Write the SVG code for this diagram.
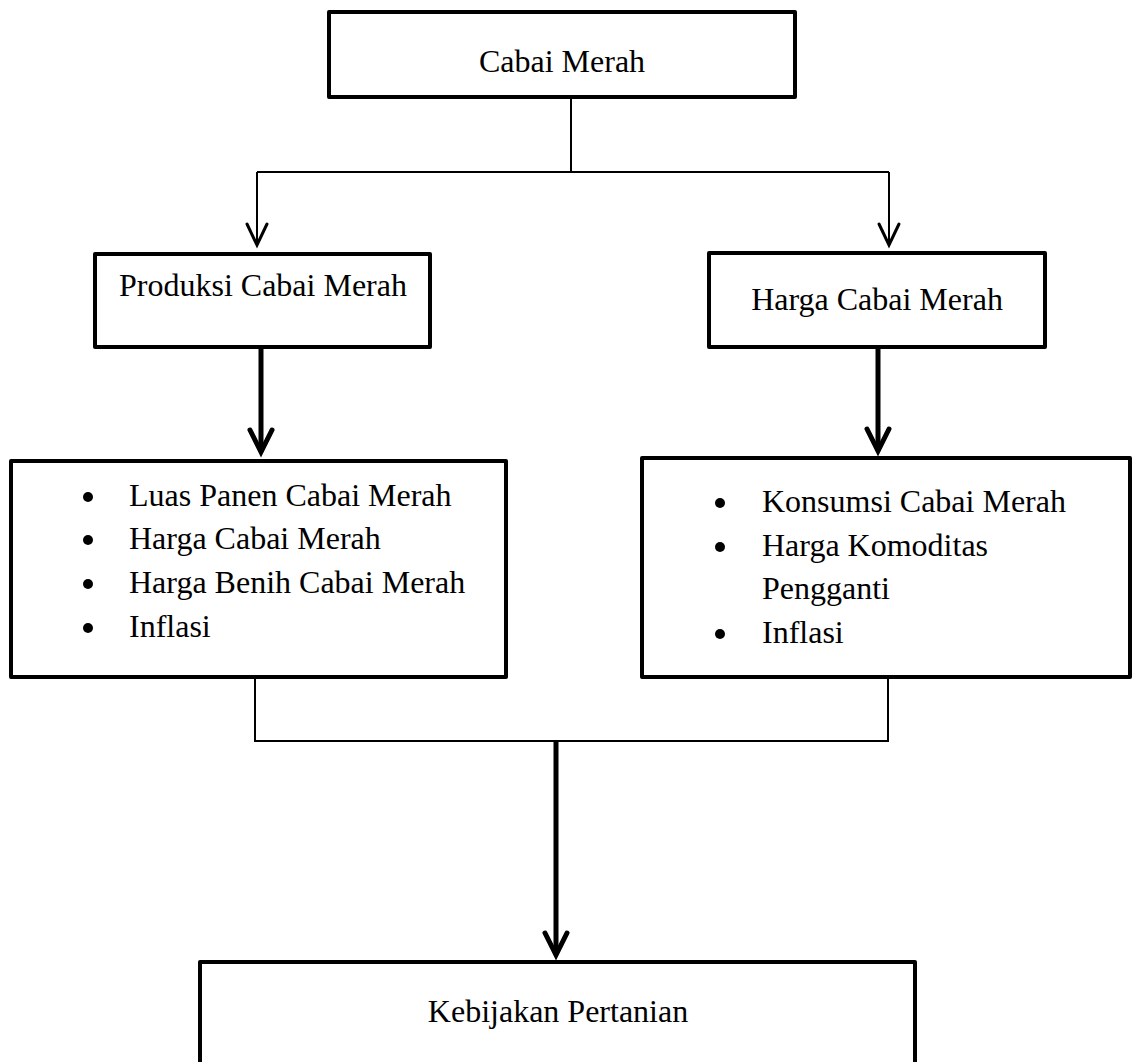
<svg xmlns="http://www.w3.org/2000/svg" width="1134" height="1062" viewBox="0 0 1134 1062">
  <style>
    .box { fill: #ffffff; stroke: #000000; stroke-width: 4; stroke-linejoin: round; }
    .lbl { font-family: "Liberation Serif", "Times New Roman", serif; font-size: 32px; fill: #000000; }
    .mid { text-anchor: middle; }
    .thin { fill: none; stroke: #000000; stroke-width: 2; }
    .thick { fill: none; stroke: #000000; stroke-width: 5; }
    .dot { fill: #000000; }
  </style>
  <defs>
    <marker id="arrThin" markerUnits="userSpaceOnUse" viewBox="-26 -14 30 28" markerWidth="30" markerHeight="28" refX="0" refY="0" orient="auto" overflow="visible">
      <path d="M-21,-10 L0,0 L-21,10" fill="none" stroke="#000000" stroke-width="3" stroke-linecap="round" stroke-linejoin="miter"/>
    </marker>
    <marker id="arrThick" markerUnits="userSpaceOnUse" viewBox="-28 -16 32 32" markerWidth="32" markerHeight="32" refX="0" refY="0" orient="auto" overflow="visible">
      <path d="M-22,-11 L0,0 L-22,11" fill="none" stroke="#000000" stroke-width="5" stroke-linecap="round" stroke-linejoin="miter"/>
    </marker>
  </defs>

  <g id="connectors">
    <path class="thin" d="M571,97 V172 M257,172 H889"/>
    <path class="thin" d="M257,172 V245" marker-end="url(#arrThin)"/>
    <path class="thin" d="M889,172 V245" marker-end="url(#arrThin)"/>
    <path class="thick" d="M261,347 V452" marker-end="url(#arrThick)"/>
    <path class="thick" d="M878,347 V451" marker-end="url(#arrThick)"/>
    <path class="thin" d="M255,677 V741 H888 V677"/>
    <path class="thick" d="M556,741 V955" marker-end="url(#arrThick)"/>
  </g>

  <g id="node-cabai-merah">
    <rect class="box" x="329" y="12" width="466" height="85"/>
    <text class="lbl mid" x="562" y="72">Cabai Merah</text>
  </g>

  <g id="node-produksi">
    <rect class="box" x="95" y="254" width="335" height="93"/>
    <text class="lbl mid" x="263" y="296">Produksi Cabai Merah</text>
  </g>

  <g id="node-harga">
    <rect class="box" x="709" y="253" width="336" height="94"/>
    <text class="lbl mid" x="877" y="310">Harga Cabai Merah</text>
  </g>

  <g id="node-faktor-produksi">
    <rect class="box" x="11" y="461" width="495" height="216"/>
    <circle class="dot" cx="88" cy="497" r="5"/>
    <text class="lbl" x="129" y="506">Luas Panen Cabai Merah</text>
    <circle class="dot" cx="88" cy="540" r="5"/>
    <text class="lbl" x="129" y="549">Harga Cabai Merah</text>
    <circle class="dot" cx="88" cy="584" r="5"/>
    <text class="lbl" x="129" y="593">Harga Benih Cabai Merah</text>
    <circle class="dot" cx="88" cy="628" r="5"/>
    <text class="lbl" x="129" y="637">Inflasi</text>
  </g>

  <g id="node-faktor-harga">
    <rect class="box" x="642" y="458" width="488" height="219"/>
    <circle class="dot" cx="720" cy="503" r="5"/>
    <text class="lbl" x="762" y="512">Konsumsi Cabai Merah</text>
    <circle class="dot" cx="720" cy="547" r="5"/>
    <text class="lbl" x="762" y="556">Harga Komoditas</text>
    <text class="lbl" x="762" y="599">Pengganti</text>
    <circle class="dot" cx="720" cy="634" r="5"/>
    <text class="lbl" x="762" y="643">Inflasi</text>
  </g>

  <g id="node-kebijakan">
    <rect class="box" x="200" y="962" width="715" height="110"/>
    <text class="lbl mid" x="558" y="1022">Kebijakan Pertanian</text>
  </g>
</svg>
